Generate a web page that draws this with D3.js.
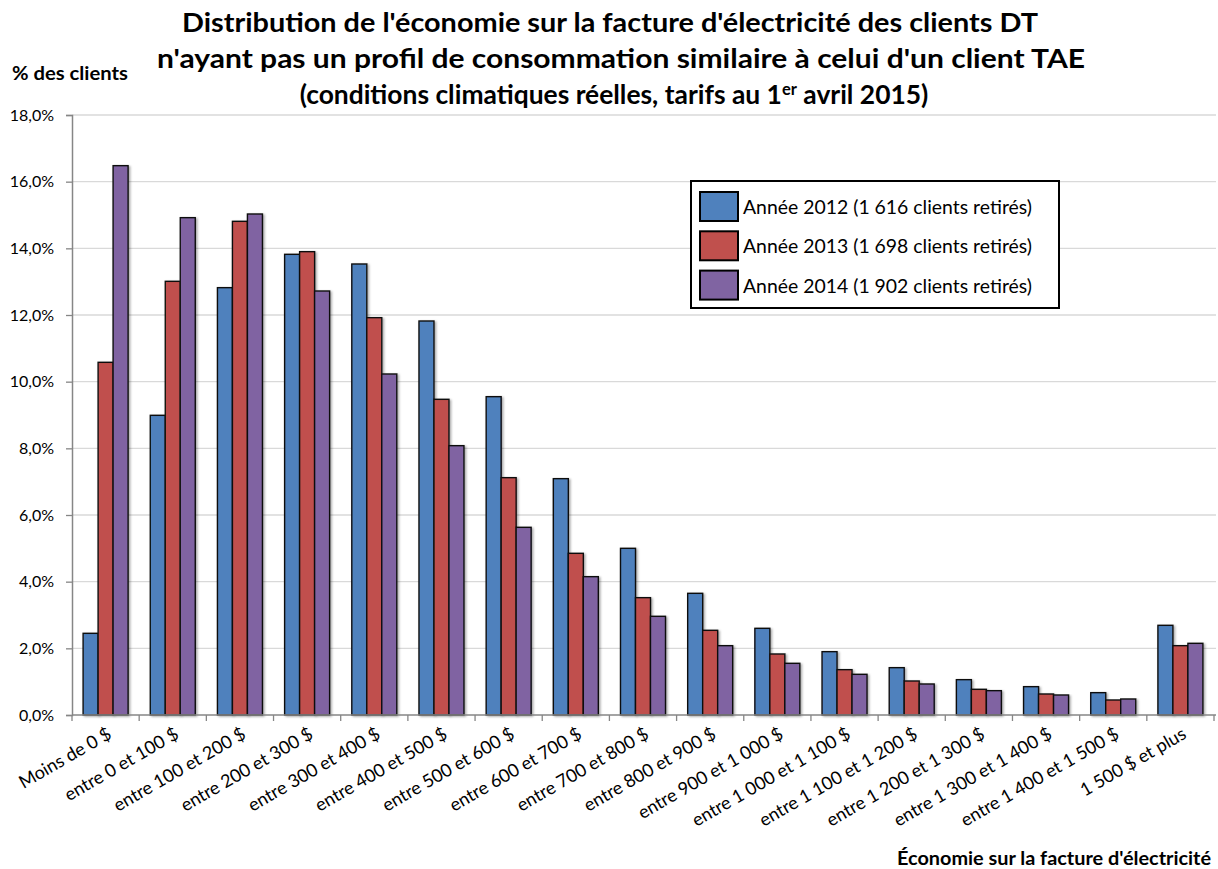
<!DOCTYPE html>
<html><head><meta charset="utf-8">
<script src="https://cdn.jsdelivr.net/npm/d3@7"></script>
<style>body{margin:0;background:#fff}svg{display:block}text{font-family:Lato,"Open Sans",sans-serif}</style>
</head><body><svg id="c" width="1218" height="869"></svg>
<script>
const categories = ["Moins de 0 $","entre 0 et 100 $","entre 100 et 200 $","entre 200 et 300 $","entre 300 et 400 $","entre 400 et 500 $","entre 500 et 600 $","entre 600 et 700 $","entre 700 et 800 $","entre 800 et 900 $","entre 900 et 1 000 $","entre 1 000 et 1 100 $","entre 1 100 et 1 200 $","entre 1 200 et 1 300 $","entre 1 300 et 1 400 $","entre 1 400 et 1 500 $","1 500 $ et plus"];
const seriesNames = ["Année 2012 (1 616 clients retirés)","Année 2013 (1 698 clients retirés)","Année 2014 (1 902 clients retirés)"];
const v2012 = [2.45,8.99,12.82,13.82,13.53,11.82,9.55,7.09,5.00,3.65,2.60,1.90,1.42,1.06,0.85,0.67,2.69];
const v2013 = [10.58,13.01,14.81,13.90,11.92,9.47,7.12,4.85,3.52,2.54,1.83,1.36,1.02,0.77,0.63,0.45,2.08];
const v2014 = [16.48,14.92,15.03,12.72,10.23,8.08,5.63,4.15,2.96,2.08,1.55,1.22,0.93,0.73,0.60,0.48,2.15];
const yTicks = [0,2,4,6,8,10,12,14,16,18];
const colors = ["#4F81BD","#C0504D","#8064A2"];
const series = [v2012,v2013,v2014];

const svg = d3.select("#c");
const L=72, R=1214, T=115, B=715;
const x0 = d3.scaleBand().domain(categories).range([L,R]).padding(0);
const x1 = d3.scaleBand().domain([0,1,2]).range([0,x0.bandwidth()]).paddingInner(0).paddingOuter(0.74);
const y = d3.scaleLinear().domain([0,18]).range([B,T]);
const loc = d3.formatLocale({decimal:",",thousands:" ",grouping:[3],currency:["","$"]});
const fmt = d => loc.format(".1f")(d)+"%";

// gridlines
svg.append("g").selectAll("line").data(yTicks.filter(d=>d>0)).join("line")
  .attr("x1",L).attr("x2",R+2).attr("y1",d=>y(d)).attr("y2",d=>y(d))
  .attr("stroke","#D9D9D9").attr("stroke-width",1.3);

// y axis
const ya = svg.append("g").attr("transform",`translate(${L},0)`)
  .call(d3.axisLeft(y).tickValues(yTicks).tickFormat(fmt).tickSize(6).tickPadding(12));
ya.select(".domain").attr("stroke","#868686").attr("stroke-width",1.5);
ya.selectAll(".tick line").attr("stroke","#868686").attr("stroke-width",1.3);
ya.selectAll(".tick text").attr("font-size",16).attr("fill","#000").style("font-family","Lato,'Open Sans',sans-serif");

// bars
const shadow = svg.append("defs").append("filter").attr("id","sh").attr("x","-20%").attr("y","-5%").attr("width","150%").attr("height","120%");
shadow.append("feDropShadow").attr("dx",1.5).attr("dy",1).attr("stdDeviation",0.8).attr("flood-color","#000").attr("flood-opacity",0.35);

const gb = svg.append("g");
series.forEach((vals,si)=>{
  gb.append("g").selectAll("rect").data(vals).join("rect")
    .attr("x",(d,i)=>x0(categories[i])+x1(si))
    .attr("width",x1.bandwidth())
    .attr("y",d=>y(d)).attr("height",d=>B-y(d))
    .attr("fill",colors[si]).attr("stroke","#111").attr("stroke-width",1.4)
    .attr("filter","url(#sh)");
});

// x axis
const xa = svg.append("g").attr("transform",`translate(0,${B})`);
xa.append("line").attr("x1",L).attr("x2",R+2).attr("stroke","#868686").attr("stroke-width",1.5);
const bounds = categories.map(c=>x0(c)).concat([R]);
xa.selectAll("line.t").data(bounds).join("line").attr("class","t")
  .attr("x1",d=>d).attr("x2",d=>d).attr("y1",0).attr("y2",6).attr("stroke","#868686").attr("stroke-width",1.3);
xa.selectAll("text").data(categories).join("text")
  .attr("transform",c=>`translate(${x0(c)+x0.bandwidth()/2+4},${17}) rotate(-30)`)
  .attr("text-anchor","end").attr("font-size",18).attr("dy","0.35em").text(c=>c);

// titles
const title = svg.append("g").attr("font-weight","bold").attr("text-anchor","middle");
title.append("text").attr("x",610).attr("y",32).attr("font-size",26).text("Distribution de l'économie sur la facture d'électricité des clients DT")
  .attr("textLength",856).attr("lengthAdjust","spacingAndGlyphs");
title.append("text").attr("x",621).attr("y",68).attr("font-size",26).text("n'ayant pas un profil de consommation similaire à celui d'un client TAE")
  .attr("textLength",928).attr("lengthAdjust","spacingAndGlyphs");
const t3 = title.append("text").attr("x",614).attr("y",104).attr("font-size",26.4);
t3.append("tspan").text("(conditions climatiques réelles, tarifs au 1");
t3.append("tspan").attr("font-size",16.5).attr("dy",-9).text("er");
t3.append("tspan").attr("dy",9).text(" avril 2015)");

svg.append("text").attr("x",12).attr("y",80).attr("font-weight","bold").attr("font-size",19.5).text("% des clients")
  .attr("textLength",116).attr("lengthAdjust","spacingAndGlyphs");
svg.append("text").attr("x",1211).attr("y",865).attr("text-anchor","end").attr("font-weight","bold").attr("font-size",19.5).text("Économie sur la facture d'électricité")
  .attr("textLength",314).attr("lengthAdjust","spacingAndGlyphs");

// legend
const lg = svg.append("g");
lg.append("rect").attr("x",691).attr("y",181).attr("width",368).attr("height",127).attr("fill","#fff").attr("stroke","#000").attr("stroke-width",2);
const li = lg.selectAll("g.i").data(seriesNames).join("g").attr("class","i")
  .attr("transform",(d,i)=>`translate(0,${i*39.3})`);
li.append("rect").attr("x",700).attr("y",192).attr("width",38).attr("height",29)
  .attr("fill",(d,i)=>colors[i]).attr("stroke","#000").attr("stroke-width",2);
li.append("text").attr("x",743).attr("y",214).attr("font-size",19).text(d=>d)
  .attr("textLength",289).attr("lengthAdjust","spacingAndGlyphs");
</script></body></html>
